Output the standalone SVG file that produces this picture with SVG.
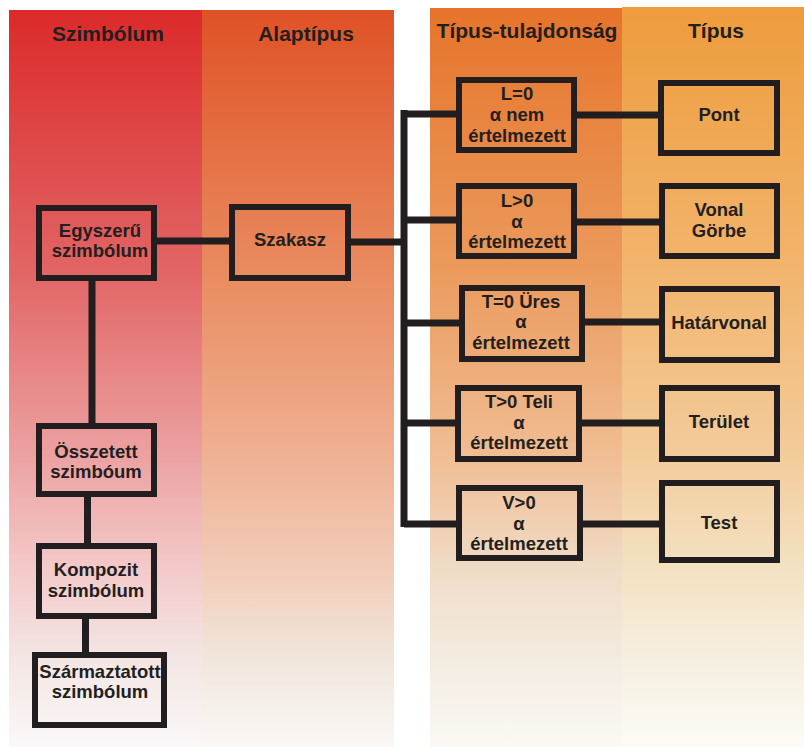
<svg xmlns="http://www.w3.org/2000/svg" width="804" height="747" viewBox="0 0 804 747">
<defs>
<linearGradient id="g1" x1="0" y1="0" x2="0" y2="1">
<stop offset="0" stop-color="#dc2a2a"/><stop offset="0.35" stop-color="#e26464"/><stop offset="0.6" stop-color="#eca0a0"/><stop offset="0.76" stop-color="#f4caca"/><stop offset="0.88" stop-color="#f3e6e4"/><stop offset="1" stop-color="#faf8f8"/>
</linearGradient>
<linearGradient id="g2" x1="0" y1="0" x2="0" y2="1">
<stop offset="0" stop-color="#df5226"/><stop offset="0.35" stop-color="#e98a5e"/><stop offset="0.6" stop-color="#efb092"/><stop offset="0.76" stop-color="#f2ccb8"/><stop offset="0.88" stop-color="#f1e6dc"/><stop offset="1" stop-color="#faf8f6"/>
</linearGradient>
<linearGradient id="g3" x1="0" y1="0" x2="0" y2="1">
<stop offset="0" stop-color="#e6742a"/><stop offset="0.35" stop-color="#eb9a5c"/><stop offset="0.6" stop-color="#f0bc92"/><stop offset="0.76" stop-color="#f0dcc6"/><stop offset="0.88" stop-color="#f3ebe0"/><stop offset="1" stop-color="#fbf9f4"/>
</linearGradient>
<linearGradient id="g4" x1="0" y1="0" x2="0" y2="1">
<stop offset="0" stop-color="#ee9c3c"/><stop offset="0.35" stop-color="#f2b46c"/><stop offset="0.6" stop-color="#f3cb9a"/><stop offset="0.76" stop-color="#f3e2c2"/><stop offset="0.88" stop-color="#f6efe0"/><stop offset="1" stop-color="#fcfbf5"/>
</linearGradient>
<style>
.box{fill:none;stroke:#221e1f;stroke-width:6}
.ln{fill:none;stroke:#221e1f;stroke-width:7}
.t{font-family:"Liberation Sans",Arial,sans-serif;font-weight:bold;font-size:18.5px;fill:#231f20;text-anchor:middle}
.h{font-family:"Liberation Sans",Arial,sans-serif;font-weight:bold;font-size:21px;fill:#231f20;text-anchor:middle}
</style>
</defs>
<rect width="804" height="747" fill="#ffffff"/>
<g id="columns">
<rect x="9" y="10" width="193" height="737" fill="url(#g1)"/>
<rect x="202" y="10" width="192" height="737" fill="url(#g2)"/>
<rect x="430" y="8" width="192" height="739" fill="url(#g3)"/>
<rect x="622" y="7" width="182" height="740" fill="url(#g4)"/>
<text class="h" x="108" y="41">Szimbólum</text>
<text class="h" x="306" y="41">Alaptípus</text>
<text class="h" x="527" y="38">Típus-tulajdonság</text>
<text class="h" x="716" y="38">Típus</text>
</g>
<g id="connectors">
<line class="ln" x1="154" y1="241" x2="232" y2="241"/>
<line class="ln" x1="348" y1="242" x2="404" y2="242"/>
<line class="ln" x1="404" y1="110" x2="404" y2="527"/>
<line class="ln" x1="404" y1="114" x2="459" y2="114"/>
<line class="ln" x1="404" y1="220" x2="459" y2="220"/>
<line class="ln" x1="404" y1="323" x2="462" y2="323"/>
<line class="ln" x1="404" y1="423" x2="458" y2="423"/>
<line class="ln" x1="404" y1="524" x2="459" y2="524"/>
<line class="ln" x1="574" y1="115" x2="661" y2="115"/>
<line class="ln" x1="574" y1="222" x2="662" y2="222"/>
<line class="ln" x1="582" y1="322" x2="662" y2="322"/>
<line class="ln" x1="579" y1="423" x2="662" y2="423"/>
<line class="ln" x1="580" y1="524" x2="662" y2="524"/>
<line class="ln" x1="92" y1="278" x2="92" y2="426"/>
<line class="ln" x1="87.5" y1="494" x2="87.5" y2="546"/>
<line class="ln" x1="85.5" y1="616" x2="85.5" y2="655"/>
</g>
<g id="egyszeru"><rect class="box" x="39" y="208" width="115" height="70"/><text class="t" x="100" y="237">Egyszerű</text><text class="t" x="100" y="257">szimbólum</text></g>
<g id="szakasz"><rect class="box" x="232" y="207" width="116" height="71"/><text class="t" x="290" y="246">Szakasz</text></g>
<g id="osszetett"><rect class="box" x="39" y="426" width="115" height="68"/><text class="t" x="96" y="458">Összetett</text><text class="t" x="96" y="478">szimbóum</text></g>
<g id="kompozit"><rect class="box" x="39" y="546" width="115" height="70"/><text class="t" x="96" y="576">Kompozit</text><text class="t" x="96" y="597">szimbólum</text></g>
<g id="szarmaztatott"><rect class="box" x="35" y="655" width="129" height="70"/><text class="t" x="100" y="678">Származtatott</text><text class="t" x="100" y="698">szimbólum</text></g>
<g id="l0"><rect class="box" x="459" y="80" width="115" height="70"/><text class="t" x="517" y="100">L=0</text><text class="t" x="517" y="121">α nem</text><text class="t" x="517" y="142">értelmezett</text></g>
<g id="lg0"><rect class="box" x="459" y="186" width="115" height="70"/><text class="t" x="517" y="207">L&gt;0</text><text class="t" x="517" y="228">α</text><text class="t" x="517" y="248">értelmezett</text></g>
<g id="t0"><rect class="box" x="462" y="288" width="120" height="71"/><text class="t" x="521" y="308">T=0 Üres</text><text class="t" x="521" y="328">α</text><text class="t" x="521" y="349">értelmezett</text></g>
<g id="tg0"><rect class="box" x="458" y="388" width="121" height="71"/><text class="t" x="519" y="408">T&gt;0 Teli</text><text class="t" x="519" y="429">α</text><text class="t" x="519" y="449">értelmezett</text></g>
<g id="vg0"><rect class="box" x="459" y="488" width="121" height="70"/><text class="t" x="519" y="509">V&gt;0</text><text class="t" x="519" y="530">α</text><text class="t" x="519" y="550">értelmezett</text></g>
<g id="pont"><rect class="box" x="661" y="83" width="116" height="70"/><text class="t" x="719" y="121">Pont</text></g>
<g id="vonal"><rect class="box" x="662" y="186" width="115" height="70"/><text class="t" x="719" y="216">Vonal</text><text class="t" x="719" y="237">Görbe</text></g>
<g id="hatarvonal"><rect class="box" x="662" y="289" width="115" height="71"/><text class="t" x="719" y="329">Határvonal</text></g>
<g id="terulet"><rect class="box" x="662" y="388" width="115" height="71"/><text class="t" x="719" y="428">Terület</text></g>
<g id="test"><rect class="box" x="662" y="483" width="115" height="77"/><text class="t" x="719" y="529">Test</text></g>
</svg>
